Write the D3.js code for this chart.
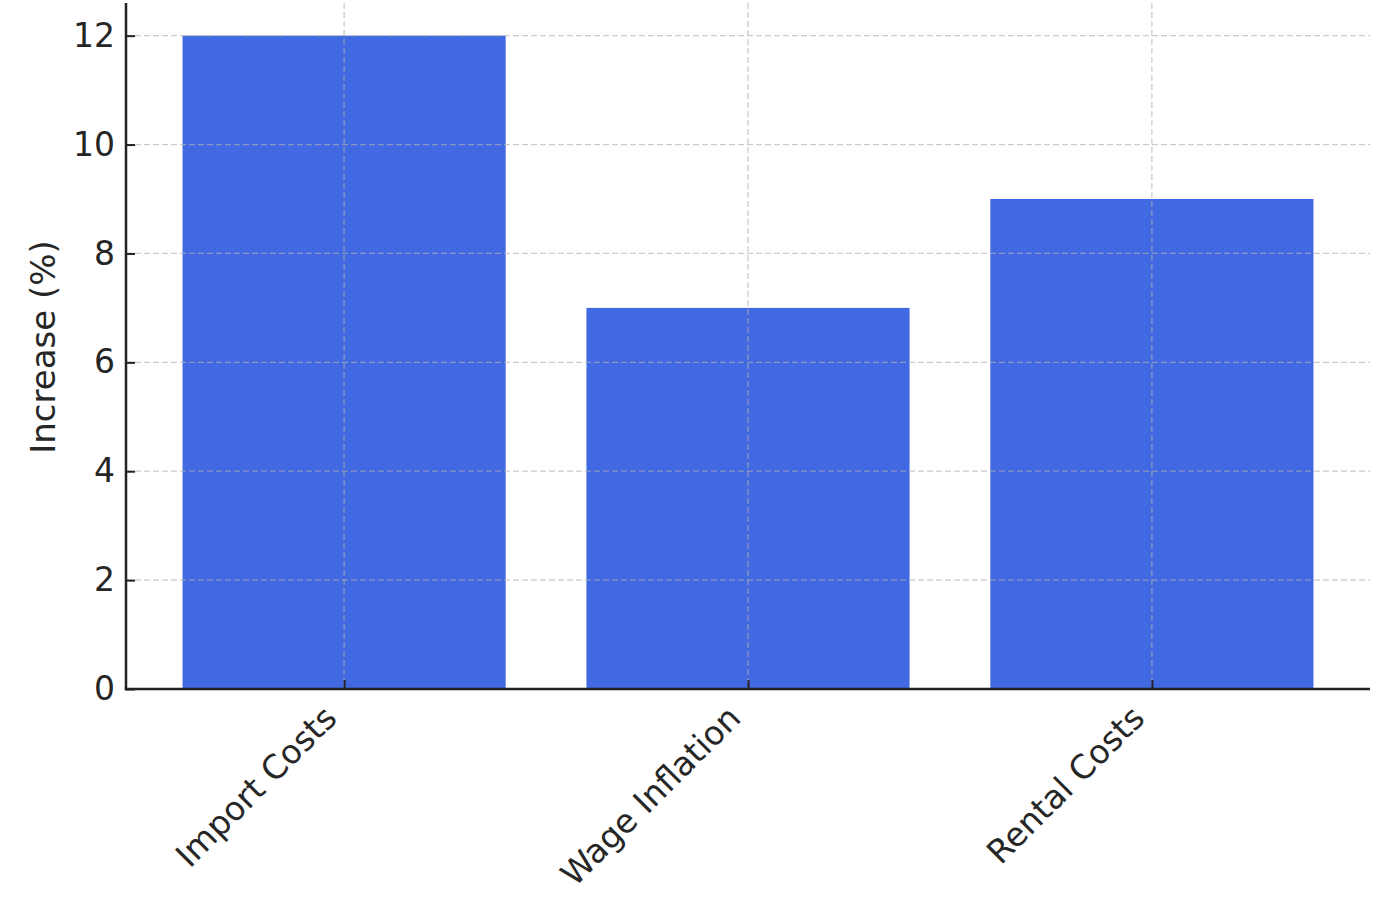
<!DOCTYPE html>
<html><head><meta charset="utf-8">
<script src="https://cdn.jsdelivr.net/npm/d3@7/dist/d3.min.js"></script>
<style>html,body{margin:0;padding:0;background:#fff;}</style>
</head><body>
<svg id="chart" width="1400" height="922"></svg>
<script>
const categories = ["Import Costs", "Wage Inflation", "Rental Costs"];
const values = [12, 7, 9];
const yTicks = [0, 2, 4, 6, 8, 10, 12];
const yLabel = "Increase (%)";

const svg = d3.select("#chart");
const pLeft = 126, pRight = 1370, pTop = 3, pBottom = 689;
const font = "'DejaVu Sans', sans-serif";
const txt = "#262626";
const fs = 33;

const x = d3.scaleLinear().domain([-0.54, categories.length - 1 + 0.54]).range([pLeft, pRight]);
const barW = 0.8;
const y = d3.scaleLinear().domain([0, 12.6]).range([pBottom, pTop]);

// bars
svg.append("g").selectAll("rect").data(values).join("rect")
  .attr("x", (d, i) => x(i - barW / 2))
  .attr("width", (d, i) => x(i + barW / 2) - x(i - barW / 2))
  .attr("y", d => y(d))
  .attr("height", d => y(0) - y(d))
  .attr("fill", "#4169E1");

// grid (above bars)
const grid = svg.append("g").attr("stroke", "#b0b0b0").attr("stroke-opacity", 0.65)
  .attr("stroke-width", 1.3).attr("stroke-dasharray", "6,3");
grid.selectAll("line.h").data(yTicks).join("line").attr("class", "h")
  .attr("x1", pLeft).attr("x2", pRight).attr("y1", d => y(d)).attr("y2", d => y(d));
grid.selectAll("line.v").data(categories).join("line").attr("class", "v")
  .attr("x1", (d, i) => x(i)).attr("x2", (d, i) => x(i)).attr("y1", pTop).attr("y2", pBottom);

// y axis
const yAxis = d3.axisLeft(y).tickValues(yTicks).tickSize(-9).tickPadding(11).tickFormat(d3.format("d"));
const gy = svg.append("g").attr("transform", `translate(${pLeft},0)`).call(yAxis);
gy.select(".domain").remove();
gy.selectAll(".tick line").attr("stroke", "#222").attr("stroke-width", 2);
gy.selectAll(".tick text").attr("font-family", font).attr("font-size", fs).attr("fill", txt);

// x axis
const xAxis = d3.axisBottom(x).tickValues(categories.map((d, i) => i)).tickSize(-9).tickFormat(i => categories[i]);
const gx = svg.append("g").attr("transform", `translate(0,${pBottom})`).call(xAxis);
gx.select(".domain").remove();
gx.selectAll(".tick line").attr("stroke", "#222").attr("stroke-width", 2);
gx.selectAll(".tick text")
  .attr("font-family", font).attr("font-size", fs).attr("fill", txt)
  .attr("text-anchor", "end").attr("dy", 0).attr("y", 0)
  .attr("transform", "translate(-6,31) rotate(-45)");

// spines
svg.append("line").attr("x1", pLeft).attr("x2", pLeft).attr("y1", pTop).attr("y2", pBottom + 1.2)
  .attr("stroke", "#222").attr("stroke-width", 2.5);
svg.append("line").attr("x1", pLeft - 1.2).attr("x2", pRight).attr("y1", pBottom).attr("y2", pBottom)
  .attr("stroke", "#222").attr("stroke-width", 2.5);

// y label
svg.append("text").attr("transform", `translate(55,${(pTop + pBottom) / 2 + 1}) rotate(-90)`)
  .attr("text-anchor", "middle").attr("font-family", font).attr("font-size", 34).attr("fill", txt)
  .text(yLabel);
</script>
</body></html>
